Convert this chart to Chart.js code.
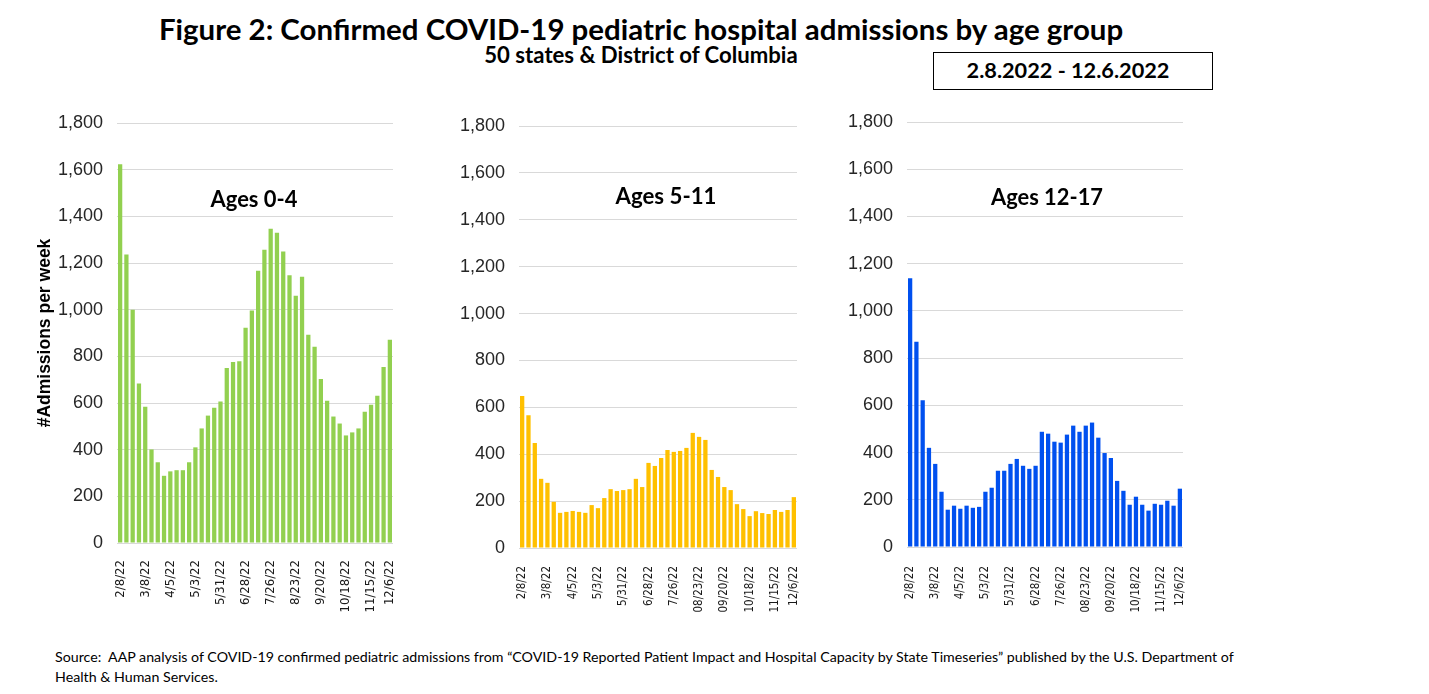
<!DOCTYPE html>
<html>
<head>
<meta charset="utf-8">
<script src="https://cdn.jsdelivr.net/npm/chart.js@4.4.1/dist/chart.umd.min.js"></script>
<style>
    body { margin: 0; background: #fff; width: 1429px; height: 694px; overflow: hidden; position: relative; font-family: Lato, 'Open Sans', sans-serif; }
    .txt { position: absolute; white-space: nowrap; line-height: 1; color: #000; }
    .c { transform: translate(-50%, -50%); }
    .l { transform: translateY(-50%); }
    .b { font-weight: 700; }
    canvas { position: absolute; }
    #dateBox { position: absolute; left: 933px; top: 52px; width: 280px; height: 38px; border: 1px solid #000; box-sizing: border-box; }
</style>
</head>
<body>
<div class="txt c b" data-w="965" style="left:641px; top:29px; font-size:28px;">Figure 2: Confirmed COVID-19 pediatric hospital admissions by age group</div>
<div class="txt c b" data-w="314" style="left:641px; top:55px; font-size:18px;">50 states &amp; District of Columbia</div>
<div id="dateBox"></div>
<div class="txt c b" data-w="203" style="left:1068px; top:71px; font-size:21px;">2.8.2022 - 12.6.2022</div>

<canvas id="chart04"></canvas>
<canvas id="chart511"></canvas>
<canvas id="chart1217"></canvas>

<div class="txt c b" data-w="87" style="left:254px; top:199px; font-size:22px;">Ages 0-4</div>
<div class="txt c b" data-w="101" style="left:666px; top:196px; font-size:22px;">Ages 5-11</div>
<div class="txt c b" data-w="112" style="left:1047px; top:197px; font-size:22px;">Ages 12-17</div>

<div class="txt l" id="src1" data-w="1182" style="left:55px; top:657px; font-size:13px;">Source:&nbsp; AAP analysis of COVID-19 confirmed pediatric admissions from “COVID-19 Reported Patient Impact and Hospital Capacity by State Timeseries” published by the U.S. Department of</div>
<div class="txt l" id="src2" style="left:55px; top:677px; font-size:13px;">Health &amp; Human Services.</div>

<script>
// semanas (martes) 2/8/22 - 12/6/22
const weeks = ['2/8/22','2/15/22','2/22/22','3/1/22','3/8/22','3/15/22','3/22/22','3/29/22',
    '4/5/22','4/12/22','4/19/22','4/26/22','5/3/22','5/10/22','5/17/22','5/24/22','5/31/22',
    '6/7/22','6/14/22','6/21/22','6/28/22','7/5/22','7/12/22','7/19/22','7/26/22',
    '8/2/22','8/9/22','8/16/22','8/23/22','8/30/22','9/6/22','9/13/22','9/20/22','9/27/22',
    '10/4/22','10/11/22','10/18/22','10/25/22','11/1/22','11/8/22','11/15/22','11/22/22','11/29/22','12/6/22'];

const ages0to4 = [1623,1236,1000,684,584,401,346,288,307,312,312,346,410,491,546,580,606,750,776,779,
    923,996,1167,1257,1347,1330,1249,1147,1060,1141,893,841,703,610,542,512,461,474,491,563,593,631,754,871];
const ages5to11 = [648,566,448,295,278,197,150,154,158,154,150,183,170,213,251,243,247,251,295,260,
    363,350,384,418,410,414,427,491,474,461,333,303,260,247,187,166,136,157,149,145,162,154,162,217];
const ages12to17 = [1138,869,622,420,352,234,158,175,162,175,166,170,234,251,323,323,352,373,344,331,
    344,488,480,446,442,476,514,488,514,527,463,398,377,280,238,179,213,179,154,183,179,196,175,247];

// etiquetas visibles del eje x
const tickIdx = [0,4,8,12,16,20,24,28,32,36,40,43];
const tickLabelsYoung = ['2/8/22','3/8/22','4/5/22','5/3/22','5/31/22','6/28/22','7/26/22','8/23/22','9/20/22','10/18/22','11/15/22','12/6/22'];
const tickLabelsOlder = ['2/8/22','3/8/22','4/5/22','5/3/22','5/31/22','6/28/22','7/26/22','08/23/22','09/20/22','10/18/22','11/15/22','12/6/22'];

const yMax = 1800;
const yStep = 200;

// ajustar textos al ancho del original
function fitText(el, width) {
    const cs = getComputedStyle(el);
    const ctx = document.createElement('canvas').getContext('2d');
    ctx.font = `${cs.fontWeight} 100px ${cs.fontFamily}`;
    const w = ctx.measureText(el.textContent).width;
    el.style.fontSize = (100 * width / w).toFixed(2) + 'px';
}
document.querySelectorAll('[data-w]').forEach(el => fitText(el, +el.dataset.w));
document.getElementById('src2').style.fontSize = document.getElementById('src1').style.fontSize;

// margenes fijos para que el area del grafico caiga donde esta en el original
const PAD_TOP = 30, PAD_RIGHT = 30, Y_W = 90, X_H = 80;

const panels = [
    { id: 'chart04', data: ages0to4, color: '#92D050', labels: tickLabelsYoung,
      plot: { l: 117, t: 123.3, r: 393, b: 543.3 }, tickSize: 13, tickPad: 9, yTitle: '#Admissions per week' },
    { id: 'chart511', data: ages5to11, color: '#FFC000', labels: tickLabelsOlder,
      plot: { l: 519, t: 125.7, r: 797, b: 548 }, tickSize: 11.5, tickPad: 10, yTitle: '' },
    { id: 'chart1217', data: ages12to17, color: '#0050EF', labels: tickLabelsOlder,
      plot: { l: 907, t: 121.6, r: 1183, b: 546.7 }, tickSize: 11.5, tickPad: 11, yTitle: '' }
];

panels.forEach(p => {
    const cv = document.getElementById(p.id);
    const w = Math.round(p.plot.r - p.plot.l + Y_W + PAD_RIGHT);
    const h = Math.round(p.plot.b - p.plot.t + PAD_TOP + X_H);
    cv.width = w; cv.height = h;
    cv.style.width = w + 'px'; cv.style.height = h + 'px';
    cv.style.left = (p.plot.l - Y_W) + 'px';
    cv.style.top = (p.plot.t - PAD_TOP) + 'px';

    new Chart(cv.getContext('2d'), {
        type: 'bar',
        data: {
            labels: weeks,
            datasets: [{
                data: p.data,
                backgroundColor: p.color,
                borderWidth: 0,
                barPercentage: 0.68,
                categoryPercentage: 1
            }]
        },
        options: {
            responsive: false,
            animation: false,
            devicePixelRatio: 1,
            layout: { padding: { top: PAD_TOP, right: PAD_RIGHT, left: 0, bottom: 0 } },
            scales: {
                y: {
                    min: 0, max: yMax,
                    afterFit: s => { s.width = Y_W; },
                    ticks: { stepSize: yStep, padding: 14, color: '#262626',
                        font: { family: "'Liberation Sans Narrow', 'Liberation Sans', Arial", size: 18 } },
                    grid: { color: '#d9d9d9', lineWidth: 1, drawTicks: false },
                    border: { display: false },
                    title: {
                        display: !!p.yTitle, text: p.yTitle, color: '#000',
                        padding: { top: 8, bottom: 0 },
                        font: { family: "'Liberation Sans', Arial", size: 17.5, weight: 'bold' }
                    }
                },
                x: {
                    afterFit: s => { s.height = X_H; },
                    ticks: {
                        autoSkip: false, minRotation: 90, maxRotation: 90, padding: p.tickPad, color: '#1a1a1a',
                        font: { family: "'DejaVu Sans Condensed', 'DejaVu Sans', sans-serif", size: p.tickSize },
                        callback: (val, i) => {
                            const k = tickIdx.indexOf(i);
                            return k >= 0 ? p.labels[k] : '';
                        }
                    },
                    grid: { display: false },
                    border: { display: false }
                }
            },
            plugins: { legend: { display: false }, tooltip: { enabled: false } }
        }
    });
});
</script>
</body>
</html>
